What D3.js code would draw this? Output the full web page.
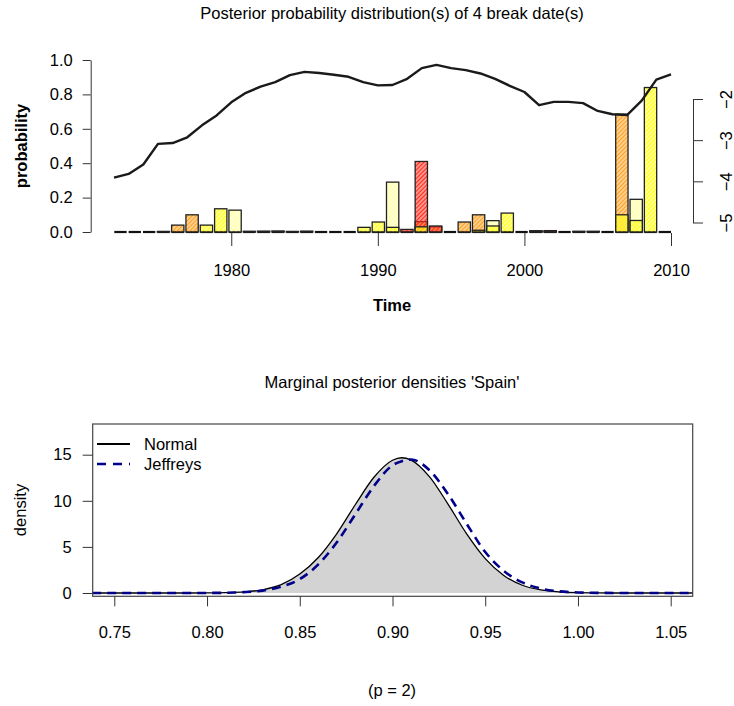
<!DOCTYPE html>
<html>
<head>
<meta charset="utf-8">
<script src="https://cdn.jsdelivr.net/npm/d3@7"></script>
<style>
  body { margin: 0; background: #fff; }
  svg { font-family: "Liberation Sans", Arial, sans-serif; }
</style>
</head>
<body>
<div id="chart"></div>
<script>
// top panel: break date probabilities per year
const years = [1972, 1973, 1974, 1975, 1976, 1977, 1978, 1979, 1980, 1981,
    1982, 1983, 1984, 1985, 1986, 1987, 1988, 1989, 1990, 1991,
    1992, 1993, 1994, 1995, 1996, 1997, 1998, 1999, 2000, 2001,
    2002, 2003, 2004, 2005, 2006, 2007, 2008, 2009, 2010];

const probPale = [0, 0, 0, 0, 0, 0, 0, 0, .127, 0, 0, 0, 0, 0, 0, 0, 0,
    0, 0, .29, 0, 0, 0, 0, 0, 0, .066, 0, 0, .007, 0, 0, 0, .004, 0, 0, .19, 0, 0];
const probOrange = [0, 0, 0, 0, .04, .10, 0, 0, 0, 0, 0, 0, 0, 0, 0, 0, 0,
    0, 0, 0, 0, .06, .03, 0, .058, .10, 0, 0, 0, 0, .003, 0, 0, 0, 0, .685, 0, 0, 0];
const probRed = [0, 0, 0, .003, 0, 0, 0, 0, 0, .004, .005, .006, .003, .005, 0, 0, 0,
    0, 0, 0, .015, .41, .035, 0, 0, 0, 0, 0, 0, .006, .008, 0, .004, 0, 0, 0, 0, 0, 0];
const probYellow = [0, 0, 0, 0, 0, 0, .04, .135, 0, 0, 0, 0, 0, 0, 0, 0, 0,
    .027, .058, .027, 0, .03, 0, 0, 0, .01, .035, .11, 0, 0, 0, 0, 0, 0, 0, .10, .067, .84, 0];

// line on the right hand axis
const lineValues = [-3.91, -3.82, -3.59, -3.09, -3.07, -2.93, -2.64, -2.40, -2.08,
    -1.85, -1.70, -1.59, -1.42, -1.34, -1.37, -1.41, -1.46, -1.59, -1.67,
    -1.66, -1.51, -1.25, -1.17, -1.25, -1.30, -1.38, -1.51, -1.68, -1.83,
    -2.15, -2.07, -2.07, -2.10, -2.29, -2.37, -2.39, -2.04, -1.53, -1.40];

const probTicks = [0, 0.2, 0.4, 0.6, 0.8, 1.0];
const yearTicks = [1980, 1990, 2000, 2010];
const rightTicks = [-5, -4, -3, -2];

// bottom panel: marginal densities
const gridP = [0.73, 0.74, 0.75, 0.76, 0.77, 0.78, 0.79, 0.80, 0.81, 0.82, 0.83,
    0.84, 0.85, 0.86, 0.87, 0.88, 0.89, 0.90, 0.905, 0.91, 0.92, 0.93, 0.94,
    0.95, 0.96, 0.97, 0.98, 0.99, 1.00, 1.01, 1.02, 1.03, 1.04, 1.05, 1.06, 1.07];
const densNormal = [0, 0, 0, 0, 0, 0, 0.002, 0.01, 0.04, 0.12, 0.35,
    0.9, 2.05, 3.85, 6.45, 9.6, 12.55, 14.4, 14.67, 14.42, 12.6, 9.62, 6.41,
    3.73, 1.9, 0.84, 0.33, 0.11, 0.03, 0.008, 0.002, 0, 0, 0, 0, 0];
const densJeffreys = [0, 0, 0, 0, 0, 0, 0.001, 0.006, 0.025, 0.09, 0.26,
    0.68, 1.5, 3.1, 5.5, 8.55, 11.6, 13.85, 14.3, 14.48, 13.3, 10.7, 7.5,
    4.45, 2.4, 1.15, 0.48, 0.18, 0.06, 0.018, 0.005, 0.001, 0, 0, 0, 0];
const pTicks = [0.75, 0.80, 0.85, 0.90, 0.95, 1.00, 1.05];
const densTicks = [0, 5, 10, 15];

const width = 734, height = 706;
const svg = d3.select("#chart").append("svg")
    .attr("width", width)
    .attr("height", height);

const fs = 16.5;

// ---------- top panel ----------
const xTime = d3.scaleLinear().domain([1972, 2010]).range([114, 671]);
const xBand = d3.scaleBand().domain(years).range([114.3, 671]).paddingInner(0.14);
const yProb = d3.scaleLinear().domain([0, 1]).range([232, 60]);
const yRight = d3.scaleLinear().domain([-5, -2]).range([222.5, 99]);

// hatch patterns
const defs = svg.append("defs");
const seriesList = [
    {name: "pale", values: probPale, color: "#ffffa8"},
    {name: "orange", values: probOrange, color: "#ffa01e"},
    {name: "red", values: probRed, color: "#ff2a1a"},
    {name: "yellow", values: probYellow, color: "#ffff1a"}
];
seriesList.forEach(s => {
    const pat = defs.append("pattern")
        .attr("id", "hatch-" + s.name)
        .attr("patternUnits", "userSpaceOnUse")
        .attr("width", 3).attr("height", 3)
        .attr("patternTransform", "rotate(45)");
    pat.append("rect").attr("width", 3).attr("height", 3)
        .attr("fill", s.color).attr("opacity", 0.5);
    pat.append("line").attr("x1", 0).attr("y1", 0).attr("x2", 0).attr("y2", 3)
        .attr("stroke", s.color).attr("stroke-width", 2);
});

svg.append("text")
    .attr("x", 392).attr("y", 19)
    .attr("text-anchor", "middle")
    .style("font-size", fs + "px")
    .text("Posterior probability distribution(s) of 4 break date(s)");

// zero baseline under every year
svg.append("g").selectAll("line")
    .data(years)
    .join("line")
    .attr("x1", d => xBand(d))
    .attr("x2", d => xBand(d) + xBand.bandwidth())
    .attr("y1", yProb(0)).attr("y2", yProb(0))
    .attr("stroke", "#111").attr("stroke-width", 2.2);

// bars for each break series
seriesList.forEach(s => {
    svg.append("g").selectAll("rect")
        .data(years.map((y, i) => ({year: y, p: s.values[i]})).filter(d => d.p > 0))
        .join("rect")
        .attr("x", d => xBand(d.year))
        .attr("width", xBand.bandwidth())
        .attr("y", d => yProb(d.p))
        .attr("height", d => yProb(0) - yProb(d.p))
        .attr("fill", "url(#hatch-" + s.name + ")")
        .attr("stroke", "#222")
        .attr("stroke-width", 1.3);
});

// line
svg.append("path")
    .datum(years.map((y, i) => ({year: y, v: lineValues[i]})))
    .attr("fill", "none")
    .attr("stroke", "#1a1a1a")
    .attr("stroke-width", 2.4)
    .attr("stroke-linejoin", "round")
    .attr("d", d3.line().x(d => xTime(d.year)).y(d => yRight(d.v)));

// left axis
svg.append("g")
    .attr("transform", "translate(90.7,0)")
    .call(d3.axisLeft(yProb).tickValues(probTicks).tickFormat(d3.format(".1f"))
        .tickSize(8).tickSizeOuter(0).tickPadding(10));
// bottom axis (ticks only)
const axB = svg.append("g")
    .attr("transform", "translate(0,233)")
    .call(d3.axisBottom(xTime).tickValues(yearTicks).tickFormat(d3.format("d"))
        .tickSize(13).tickSizeOuter(0).tickPadding(18));
axB.select(".domain").remove();
// right axis, labels parallel to the axis
const axR = svg.append("g")
    .attr("transform", "translate(693,0)")
    .call(d3.axisRight(yRight).tickValues(rightTicks).tickFormat(d => "\u2212" + Math.abs(d))
        .tickSize(10).tickSizeOuter(0));
axR.selectAll(".tick text")
    .attr("x", null).attr("y", null).attr("dy", "0.35em")
    .attr("text-anchor", "middle")
    .attr("transform", "translate(33,0) rotate(-90)");

svg.append("text")
    .attr("transform", "translate(27,146) rotate(-90)")
    .attr("text-anchor", "middle")
    .style("font-size", fs + "px")
    .style("font-weight", "bold")
    .text("probability");

svg.append("text")
    .attr("x", 392).attr("y", 311)
    .attr("text-anchor", "middle")
    .style("font-size", fs + "px")
    .style("font-weight", "bold")
    .text("Time");

// ---------- bottom panel ----------
const xP = d3.scaleLinear().domain([0.75, 1.05]).range([114.3, 670.7]);
const yD = d3.scaleLinear().domain([0, 15]).range([593, 454.7]);
const box = {x0: 92.7, x1: 692.7, y0: 424, y1: 596.3};

defs.append("clipPath").attr("id", "boxclip")
    .append("rect")
    .attr("x", box.x0).attr("y", box.y0)
    .attr("width", box.x1 - box.x0).attr("height", box.y1 - box.y0);

svg.append("text")
    .attr("x", 392).attr("y", 388)
    .attr("text-anchor", "middle")
    .style("font-size", fs + "px")
    .text("Marginal posterior densities 'Spain'");

const plot = svg.append("g").attr("clip-path", "url(#boxclip)");

const normalPts = gridP.map((p, i) => ({p: p, d: densNormal[i]}));
const jeffPts = gridP.map((p, i) => ({p: p, d: densJeffreys[i]}));

plot.append("path")
    .datum(normalPts)
    .attr("fill", "#d3d3d3")
    .attr("d", d3.area().x(d => xP(d.p)).y0(yD(0)).y1(d => yD(d.d)).curve(d3.curveMonotoneX));

plot.append("path")
    .datum(normalPts)
    .attr("fill", "none")
    .attr("stroke", "#000")
    .attr("stroke-width", 1.3)
    .attr("d", d3.line().x(d => xP(d.p)).y(d => yD(d.d)).curve(d3.curveMonotoneX));

plot.append("path")
    .datum(jeffPts)
    .attr("fill", "none")
    .attr("stroke", "#00008b")
    .attr("stroke-width", 2.6)
    .attr("stroke-dasharray", "9,6")
    .attr("d", d3.line().x(d => xP(d.p)).y(d => yD(d.d)).curve(d3.curveMonotoneX));

svg.append("rect")
    .attr("x", box.x0).attr("y", box.y0)
    .attr("width", box.x1 - box.x0).attr("height", box.y1 - box.y0)
    .attr("fill", "none")
    .attr("stroke", "#444")
    .attr("stroke-width", 1.2);

svg.append("g")
    .attr("transform", `translate(${box.x0},0)`)
    .call(d3.axisLeft(yD).tickValues(densTicks).tickFormat(d3.format("d"))
        .tickSize(10).tickSizeOuter(0).tickPadding(11))
    .select(".domain").remove();

svg.append("g")
    .attr("transform", `translate(0,${box.y1})`)
    .call(d3.axisBottom(xP).tickValues(pTicks).tickFormat(d3.format(".2f"))
        .tickSize(10).tickSizeOuter(0).tickPadding(20))
    .select(".domain").remove();

svg.append("text")
    .attr("transform", "translate(26,510) rotate(-90)")
    .attr("text-anchor", "middle")
    .style("font-size", fs + "px")
    .text("density");

// legend
const legend = [
    {label: "Normal", color: "#000", dash: null, w: 2},
    {label: "Jeffreys", color: "#00008b", dash: "9,7", w: 2.6}
];
legend.forEach((l, i) => {
    const ly = 444 + i * 20;
    svg.append("line")
        .attr("x1", 97).attr("x2", 130).attr("y1", ly).attr("y2", ly)
        .attr("stroke", l.color).attr("stroke-width", l.w)
        .attr("stroke-dasharray", l.dash);
    svg.append("text")
        .attr("x", 144).attr("y", ly).attr("dy", "0.35em")
        .style("font-size", fs + "px")
        .text(l.label);
});

svg.append("text")
    .attr("x", 392).attr("y", 696)
    .attr("text-anchor", "middle")
    .style("font-size", fs + "px")
    .text("(p = 2)");

// common axis styling
svg.selectAll(".tick text").style("font-size", fs + "px").attr("fill", "#000")
    .style("font-family", "Liberation Sans, Arial, sans-serif");
svg.selectAll(".tick line").attr("stroke", "#333");
svg.selectAll(".domain").attr("stroke", "#333");
</script>
</body>
</html>
